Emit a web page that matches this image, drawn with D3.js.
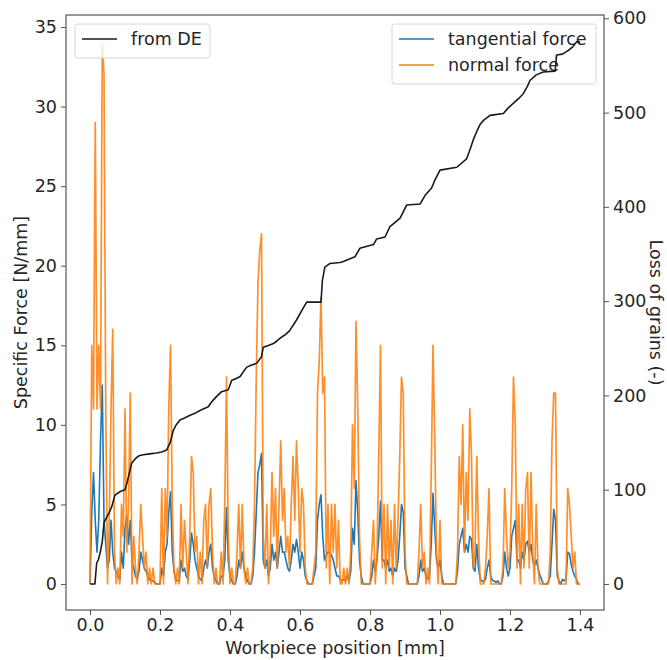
<!DOCTYPE html>
<html><head><meta charset="utf-8">
<script src="https://cdn.jsdelivr.net/npm/d3@7"></script>
<style>body{margin:0;background:#fff} text{font-family:"DejaVu Sans",sans-serif;fill:#262626}</style>
</head><body><svg id="c" width="667" height="660"></svg>
<script>
// sampling grid of the force signals (mm)
const positions = d3.range(0, 281).map(i => +(i * 0.005).toFixed(3));

const normalForce = [
0,15,11,29,11,15,11,34,32,11,
0,4,11,16,2,0,1,0,5,3,
11,2,5,12,0,3,1,0,2,5,
3,1,2,0,1,0,1,0,0,0,
0,6,0,6,3,11,15,5,1,0,
1,0,5,1,4,2,0,3,8,7,
2,3,0,2,0,4,5,1,5,6,
2,0,1,0,0,2,0,5,13,3,
0,1,0,0,2,5,1,5,1,0,
1,0,0,1,5,13,19,21,22,3,
1,5,0,2,7,3,6,1,5,9,
4,6,2,3,1,5,8,4,9,6,
2,6,5,1,0,0,0,0,1,2,
12,14,18,12,13,1,5,0,5,2,
5,1,4,0,0,1,0,1,0,2,
10,6,16.5,11,3,0,0,0,0,0,
0,2,4,0,2,8,15,1,5,0,
5,1,4,0,5,1,4,8,13,12,
2,0,0,0,0,0,0,0,2,5,
1,2,0,1,0,7,15,9,2,0,
4,0,0,0,0,0,0,0,0,0,
2,8,5,10,2,7,4,11,8,1,
2,8,3,0,0,0,1,3,6,0,
0,0,0,0,0,0,1,6,3,1,
2,6,13,10,1,5,0,5,1,6,
7,1,7,2,0,5,1,0,0,0,
0,0,0,2,9,12,12,1,0,0,
0,0,0,6,5,3,1,2,0,0,0];

const tangentialForce = [
0,4.5,7,4,2,4,9,12.5,4,2.5,
1,1.5,4,2,1,0.8,0.5,0.3,2,1,
3.5,4.3,2.5,4,1.5,1,0.5,0.3,0.8,2,
1.5,1,0.8,0.5,0.3,0.2,0.2,0.1,0,0,
0,1,0.5,2,2.5,4.5,5.8,2,0.8,0.3,
0.2,0.2,1.5,0.8,1,0.5,0.3,1.5,3.2,2.5,
1.5,1,0.5,0.3,0.2,1,1.5,1,2,2.5,
1,0.5,0.2,0,0,0.5,0.5,1.5,4.8,1.5,
0.5,0.2,0,0,0.5,1.5,1,2,1,0.5,
0.2,0,0,0.5,2,4.5,7,7.5,8.2,1.5,
1,1.5,0.5,1,2.5,1.5,2,1,2,3,
2,2,1.5,1,0.8,1.5,2.5,2,2.8,2,
1,2,1.5,0.5,0.2,0,0,0,0.5,1,
4,5,5.6,3,1.5,1.8,2,2,1.8,1.5,
1,0.5,0.5,0.3,0.2,0.3,0.2,0.5,0.2,0.8,
3.5,2.5,6.5,4.5,1.5,0.5,0,0,0,0,
0,0.5,1.5,0.8,1.5,3,5.2,1.5,1.5,1,
1.5,0.8,1,0.5,1,0.8,1.5,3,5,4.5,
1,0.5,0,0,0,0,0,0,0.5,1.5,
0.8,1,0.5,0.3,0.5,2.5,5.7,3.5,1.5,1,
1.5,0.5,0,0,0,0,0,0,0,0,
0.8,2.5,3,3.5,2,2.5,2,3,2.8,1,
0.8,2.5,1,0.3,0.2,0.1,0.3,1,1.5,0.5,
0.2,0.2,0.1,0.2,0,0,0.5,2,1,0.5,
1,3,3.5,4,1.5,1.5,1,2,1.5,2.5,
2.7,2,2.5,1.5,1.2,1.5,1,0.6,0.3,0,
0,0,0.2,0.5,2.5,4.7,4,0.5,0.2,0,
0.3,0.2,0.3,2,1.9,1.2,0.8,0.5,0.3,0,0];

// loss of grains (from DE)
const lossX = [0,0.014,0.019,0.024,0.029,0.035,0.040,0.048,0.055,0.062,0.071,0.078,0.086,0.100,0.105,0.110,0.119,0.125,0.133,0.140,0.152,0.170,0.190,0.205,0.219,0.229,0.234,0.238,0.245,0.257,0.270,0.286,0.300,0.314,0.338,0.345,0.352,0.362,0.376,0.395,0.405,0.418,0.429,0.438,0.448,0.460,0.476,0.490,0.495,0.510,0.524,0.535,0.548,0.560,0.571,0.590,0.605,0.619,0.660,0.664,0.671,0.686,0.714,0.724,0.757,0.771,0.810,0.819,0.843,0.857,0.870,0.886,0.905,0.943,0.957,0.976,0.985,1.000,1.048,1.076,1.085,1.095,1.105,1.114,1.125,1.143,1.181,1.195,1.210,1.225,1.238,1.250,1.257,1.275,1.295,1.329,1.333,1.350,1.367,1.380,1.390,1.400];
const lossY = [0,0,22,26,33,45,65,71,76,82,94,96,98,100,106,114,128,131,134,136,137,138,139,140,142,150,157,163,168,174,176,179,181,184,188,192,195,199,204,206,216,218,220,225,230,232,234,241,251,253,255,258,262,265,269,280,290,299,299,322,336,340,341,342,347,356,360,366,368,379,383,388,402,403,412,420,428,439,442,451,460,471,480,487,492,497,499,505,510,515,520,528,534,540,543,544,561,562,566,570,575,575];

const forceTicks = [0,5,10,15,20,25,30,35];
const lossTicks = [0,100,200,300,400,500,600];
const posTicks = [0,0.2,0.4,0.6,0.8,1.0,1.2,1.4];

const L = 66, R = 604, T = 15, B = 610;
const FS = "17.5px";
const svg = d3.select("#c");
const x = d3.scaleLinear().domain([-0.0686, 1.4686]).range([L, R]);
const yF = d3.scaleLinear().domain([-1.634, 35.754]).range([B, T]);
const yL = d3.scaleLinear().domain([-27.6, 603.5]).range([B, T]);

const axisColor = "#555";
const g = svg.append("g");

// force lines
const lineT = d3.line().x((d,i) => x(positions[i])).y(d => yF(d));
g.append("path").datum(tangentialForce).attr("d", lineT)
  .attr("fill","none").attr("stroke","#1f77b4").attr("stroke-width",1.6).attr("stroke-linejoin","round");
g.append("path").datum(normalForce).attr("d", lineT)
  .attr("fill","none").attr("stroke","#ff7f0e").attr("stroke-opacity",0.88).attr("stroke-width",1.7).attr("stroke-linejoin","round");

// axes
function styleAxis(sel){
  sel.selectAll("path").remove();
  sel.selectAll("line").attr("stroke", axisColor).attr("stroke-width",1);
  sel.selectAll("text").style("font-size",FS).attr("fill","#262626");
}
svg.append("g").attr("transform",`translate(${L},0)`)
  .call(d3.axisLeft(yF).tickValues(forceTicks).tickSize(5).tickPadding(4).tickFormat(d3.format("d"))).call(styleAxis);
svg.append("g").attr("transform",`translate(${R},0)`)
  .call(d3.axisRight(yL).tickValues(lossTicks).tickSize(5).tickPadding(4).tickFormat(d3.format("d"))).call(styleAxis);
svg.append("g").attr("transform",`translate(0,${B})`)
  .call(d3.axisBottom(x).tickValues(posTicks).tickSize(5).tickPadding(4).tickFormat(d3.format(".1f"))).call(styleAxis);

// frame
svg.append("rect").attr("x",L).attr("y",T).attr("width",R-L).attr("height",B-T)
  .attr("fill","none").attr("stroke",axisColor).attr("stroke-width",1.2);

// axis labels
svg.append("text").attr("x",(L+R)/2).attr("y",654).attr("text-anchor","middle").style("font-size",FS).text("Workpiece position [mm]");
svg.append("text").attr("transform",`translate(27,${(T+B)/2}) rotate(-90)`).attr("text-anchor","middle").style("font-size",FS).text("Specific Force [N/mm]");
svg.append("text").attr("transform",`translate(650,${(T+B)/2}) rotate(90)`).attr("text-anchor","middle").style("font-size",FS).text("Loss of grains (-)");

function legend(x0, y0, w, items){
  const lg = svg.append("g");
  lg.append("rect").attr("x",x0).attr("y",y0).attr("width",w).attr("height",items.length*26+8)
    .attr("rx",3).attr("fill","#fff").attr("fill-opacity",0.8).attr("stroke","#d6d6d6").attr("stroke-width",1);
  items.forEach((it,i) => {
    const yy = y0 + 15 + i*26;
    lg.append("line").attr("x1",x0+7).attr("x2",x0+42).attr("y1",yy).attr("y2",yy)
      .attr("stroke",it.c).attr("stroke-width",1.5);
    lg.append("text").attr("x",x0+56).attr("y",yy+6).style("font-size",FS).text(it.t);
  });
}
// legend for forces (under the black line)
legend(392, 24, 204, [{t:"tangential force",c:"#1f77b4"},{t:"normal force",c:"#ff7f0e"}]);

// loss of grains line (twin axis, drawn on top)
const lineL = d3.line().x((d,i) => x(lossX[i])).y(d => yL(d));
svg.append("path").datum(lossY).attr("d", lineL)
  .attr("fill","none").attr("stroke","#1a1a1a").attr("stroke-width",1.6).attr("stroke-linejoin","round");

legend(75, 24, 135, [{t:"from DE",c:"#1a1a1a"}]);
</script></body></html>
